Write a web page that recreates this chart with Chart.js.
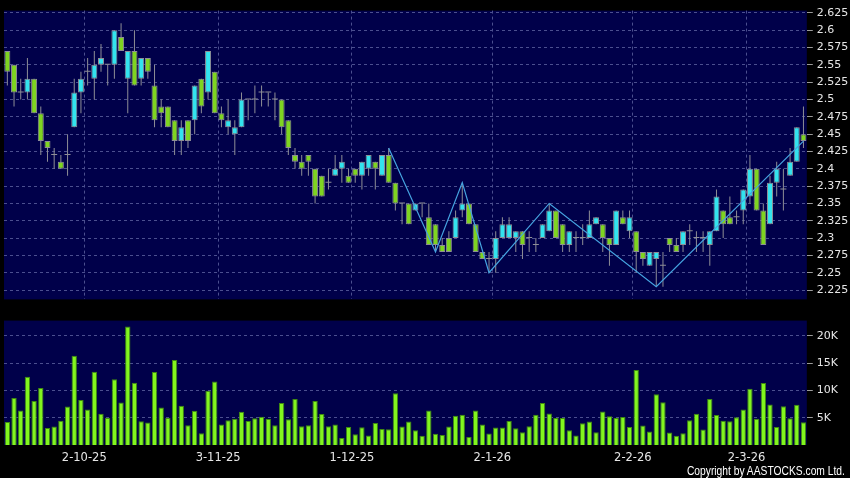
<!DOCTYPE html>
<html>
<head>
<meta charset="utf-8">
<script src="https://cdn.jsdelivr.net/npm/chart.js@4.4.1/dist/chart.umd.min.js"></script>
<style>
  html, body { margin: 0; padding: 0; background: #000; }
  #wrap { position: relative; width: 850px; height: 478px; background: #000; overflow: hidden; }
  #price { position: absolute; left: 0; top: 0; }
  #volume { position: absolute; left: 0; top: 310px; }
  #copy { position: absolute; right: 5px; top: 463px; color: #fff; white-space: nowrap;
          font: 13px "Liberation Sans", sans-serif; transform-origin: right top; }
</style>
</head>
<body>
<div id="wrap">
  <canvas id="price" width="850" height="310"></canvas>
  <canvas id="volume" width="850" height="168"></canvas>
  <div id="copy">Copyright by AASTOCKS.com Ltd.</div>
</div>
<script>
// trading days per month (day numbers), label format d-m-yy
var tradingDays = [
  ['9-25',  [15,16,17,18,19,22,23,24,25,26,29,30]],
  ['10-25', [2,3,6,8,9,10,13,14,15,16,17,20,21,22,23,24,27,28,30,31]],
  ['11-25', [3,4,5,6,7,10,11,12,13,14,17,18,19,20,21,24,25,26,27,28]],
  ['12-25', [1,2,3,4,5,8,9,10,11,12,15,16,17,18,19,22,23,24,29,30,31]],
  ['1-26',  [2,5,6,7,8,9,12,13,14,15,16,19,20,21,22,23,26,27,28,29,30]],
  ['2-26',  [2,3,4,5,6,9,10,11,12,13,16,20,23,24,25,26,27]],
  ['3-26',  [2,3,4,5,6,9,10,11,12]]
];
var monthStarts = ['2-10-25', '3-11-25', '1-12-25', '2-1-26', '2-2-26', '2-3-26'];

var open = [2.57,2.55,2.51,2.51,2.53,2.48,2.44,2.42,2.41,2.42,2.46,2.51,2.54,2.53,2.55,2.55,2.55,2.59,2.53,2.57,
  2.53,2.56,2.52,2.49,2.49,2.47,2.44,2.47,2.47,2.53,2.51,2.54,2.48,2.46,2.45,2.46,2.50,2.50,2.51,2.51,
  2.50,2.50,2.47,2.42,2.41,2.42,2.40,2.39,2.38,2.39,2.40,2.39,2.40,2.39,2.40,2.41,2.39,2.42,2.38,2.35,
  2.35,2.34,2.35,2.33,2.32,2.29,2.30,2.30,2.34,2.35,2.32,2.28,2.27,2.27,2.30,2.30,2.30,2.31,2.30,2.29,
  2.30,2.31,2.34,2.32,2.29,2.30,2.30,2.30,2.32,2.32,2.30,2.29,2.33,2.31,2.31,2.28,2.26,2.27,2.26,2.30,
  2.29,2.29,2.31,2.30,2.30,2.29,2.31,2.34,2.33,2.33,2.34,2.36,2.40,2.34,2.32,2.38,2.37,2.39,2.41,2.45];
var high = [2.57,2.55,2.53,2.56,2.53,2.49,2.44,2.43,2.42,2.45,2.53,2.54,2.56,2.57,2.58,2.55,2.60,2.61,2.57,2.60,
  2.56,2.56,2.55,2.50,2.49,2.47,2.47,2.47,2.52,2.53,2.57,2.54,2.49,2.50,2.47,2.51,2.50,2.52,2.52,2.51,
  2.51,2.50,2.47,2.43,2.42,2.42,2.40,2.39,2.40,2.42,2.42,2.40,2.40,2.41,2.42,2.41,2.42,2.43,2.38,2.35,
  2.35,2.35,2.35,2.35,2.32,2.30,2.31,2.34,2.38,2.35,2.32,2.28,2.28,2.31,2.33,2.33,2.31,2.31,2.31,2.30,
  2.32,2.35,2.34,2.32,2.31,2.31,2.32,2.34,2.33,2.32,2.30,2.34,2.34,2.34,2.31,2.28,2.28,2.28,2.28,2.30,
  2.30,2.31,2.32,2.31,2.31,2.31,2.37,2.34,2.36,2.34,2.37,2.42,2.40,2.35,2.39,2.41,2.40,2.43,2.46,2.49];
var low = [2.52,2.49,2.50,2.50,2.48,2.42,2.41,2.40,2.40,2.39,2.46,2.48,2.52,2.50,2.54,2.52,2.53,2.57,2.48,2.52,
  2.52,2.53,2.46,2.46,2.46,2.42,2.42,2.43,2.45,2.48,2.50,2.48,2.46,2.45,2.42,2.46,2.47,2.48,2.49,2.49,
  2.47,2.45,2.42,2.40,2.39,2.39,2.35,2.36,2.37,2.39,2.38,2.38,2.38,2.37,2.39,2.37,2.39,2.38,2.34,2.32,
  2.32,2.34,2.33,2.29,2.28,2.28,2.28,2.30,2.33,2.32,2.28,2.27,2.25,2.25,2.30,2.30,2.28,2.27,2.28,2.28,
  2.30,2.31,2.30,2.28,2.28,2.28,2.29,2.30,2.32,2.28,2.26,2.29,2.32,2.30,2.25,2.26,2.26,2.23,2.23,2.28,
  2.28,2.28,2.29,2.28,2.28,2.26,2.31,2.30,2.32,2.32,2.32,2.35,2.34,2.29,2.32,2.36,2.34,2.39,2.41,2.43];
var close = [2.54,2.51,2.51,2.53,2.48,2.44,2.43,2.42,2.40,2.42,2.51,2.53,2.54,2.55,2.56,2.55,2.60,2.57,2.57,2.52,
  2.56,2.54,2.47,2.48,2.46,2.44,2.46,2.44,2.52,2.49,2.57,2.48,2.47,2.47,2.46,2.50,2.50,2.50,2.51,2.51,
  2.50,2.46,2.43,2.41,2.40,2.41,2.36,2.36,2.38,2.40,2.41,2.38,2.39,2.41,2.42,2.40,2.42,2.38,2.35,2.35,
  2.32,2.35,2.35,2.29,2.29,2.28,2.28,2.33,2.35,2.32,2.28,2.27,2.27,2.30,2.32,2.32,2.31,2.29,2.30,2.29,
  2.32,2.34,2.30,2.29,2.31,2.30,2.30,2.32,2.33,2.30,2.29,2.34,2.32,2.33,2.28,2.27,2.28,2.28,2.26,2.29,
  2.28,2.31,2.31,2.30,2.30,2.31,2.36,2.32,2.32,2.33,2.37,2.40,2.34,2.29,2.38,2.40,2.37,2.41,2.46,2.44];
// volume in shares
var volume = [4220,8610,6330,12470,8070,10420,3130,3370,4460,7050,16330,8250,6510,13430,5720,5000,12050,7770,21690,11390,
  4340,4100,13370,6870,5000,15540,7170,3610,6270,2170,9940,11630,3730,4520,4820,6080,4400,4880,5180,4760,
  3610,7710,4700,8430,3430,3610,8070,5660,3430,3730,1270,3310,1990,3250,1750,4040,2950,2890,9460,3370,
  4280,2710,1690,6330,2050,1810,3370,5360,5540,1450,6330,3730,2110,3190,3190,4400,3070,2350,3430,5540,
  7710,5780,4940,4940,2710,1750,3980,4280,2350,6140,5240,4940,5120,3310,13730,3550,2470,9280,7830,2290,
  1690,2170,4520,5720,2830,8430,5480,4460,4340,5060,6510,10300,4820,11330,7410,3310,7110,4880,7350,4160];
// zigzag pivots: bar index and price
var zzIndex = [57, 64, 68, 72, 81, 97, 119];
var zzPrice = [2.43, 2.28, 2.38, 2.25, 2.35, 2.23, 2.44];

var priceTicks = [2.225,2.25,2.275,2.3,2.325,2.35,2.375,2.4,2.425,2.45,2.475,2.5,2.525,2.55,2.575,2.6,2.625];
var volTicks = [5000, 10000, 15000, 20000];

var labels = [];
tradingDays.forEach(function(m){
  m[1].forEach(function(d){ labels.push(d + '-' + m[0]); });
});

var NAVY = '#00004a';
var GRID = '#4b4f8f';
var TXT = '#e6e6e6';
var UP = '#33e3ee';
var DOWN = '#7fd421';
var EDGE = '#8e8e96';

Chart.defaults.font.family = '"DejaVu Sans", sans-serif';
Chart.defaults.animation = false;

var panelBg = {
  id: 'panelBg',
  beforeDraw: function(chart){
    var a = chart.chartArea, c = chart.ctx;
    c.save();
    c.fillStyle = NAVY;
    c.fillRect(a.left, a.top, a.right - a.left, a.bottom - a.top);
    c.restore();
  }
};

function monthLine(ctx){
  return monthStarts.indexOf(labels[ctx.index]) >= 0 ? GRID : 'rgba(0,0,0,0)';
}

var wicks = labels.map(function(l, i){ return [low[i], high[i]]; });
var bodies = labels.map(function(l, i){ return [open[i], close[i]]; });
var bodyColor = labels.map(function(l, i){
  if (close[i] > open[i]) return UP;
  if (close[i] < open[i]) return DOWN;
  return EDGE;
});
var bodyBorder = labels.map(function(l, i){ return close[i] === open[i] ? 0 : 1; });
var zigzag = labels.map(function(){ return null; });
for (var k = 0; k < zzIndex.length; k++) zigzag[zzIndex[k]] = zzPrice[k];

new Chart(document.getElementById('price'), {
  type: 'bar',
  data: {
    labels: labels,
    datasets: [
      { type: 'line', data: zigzag, spanGaps: true, borderColor: '#45a3e0', borderWidth: 1.2,
        pointRadius: 0, tension: 0, order: 0 },
      { data: bodies, grouped: false, barThickness: 6, backgroundColor: bodyColor,
        borderColor: EDGE, borderWidth: bodyBorder, borderSkipped: false, minBarLength: 1,
        inflateAmount: 0, order: 1 },
      { data: wicks, grouped: false, barThickness: 1, backgroundColor: EDGE,
        borderWidth: 0, inflateAmount: 0, order: 2 }
    ]
  },
  options: {
    responsive: false,
    layout: { padding: { left: 4, top: 6, right: 0, bottom: 4 } },
    plugins: { legend: { display: false }, tooltip: { enabled: false } },
    scales: {
      x: {
        offset: true,
        grid: { offset: true, color: monthLine, drawTicks: false },
        border: { display: false, dash: [3, 3] },
        ticks: { display: false, autoSkip: false },
        afterFit: function(s){ s.height = 0; }
      },
      y: {
        position: 'right',
        min: 2.21157, max: 2.62824,
        afterBuildTicks: function(s){ s.ticks = priceTicks.map(function(v){ return { value: v }; }); },
        afterFit: function(s){ s.width = 43.2; },
        grid: { color: GRID, tickLength: 6, tickColor: '#9a9a9a' },
        border: { display: false, dash: [3, 3] },
        ticks: { color: TXT, padding: 4, font: { size: 11 },
                 callback: function(v){ return String(+v.toFixed(3)); } }
      }
    }
  },
  plugins: [panelBg]
});

new Chart(document.getElementById('volume'), {
  type: 'bar',
  data: {
    labels: labels,
    datasets: [
      { data: volume, backgroundColor: '#82f51e', borderColor: '#3f8a10', borderWidth: 1,
        borderSkipped: 'bottom', barPercentage: 0.8, categoryPercentage: 1, inflateAmount: 0 }
    ]
  },
  options: {
    responsive: false,
    layout: { padding: { left: 4, top: 9, right: 0, bottom: 0 } },
    plugins: { legend: { display: false }, tooltip: { enabled: false } },
    scales: {
      x: {
        offset: true,
        grid: { offset: true, color: monthLine, tickLength: 4, tickColor: monthLine },
        border: { display: false, dash: [3, 3] },
        ticks: { autoSkip: false, maxRotation: 0, labelOffset: -3.35, padding: 2, color: TXT,
                 font: { size: 11.5 },
                 callback: function(v, i){ return monthStarts.indexOf(labels[i]) >= 0 ? labels[i] : null; } },
        afterFit: function(s){ s.height = 33; }
      },
      y: {
        position: 'right',
        min: 0, max: 22770,
        afterBuildTicks: function(s){ s.ticks = volTicks.map(function(v){ return { value: v }; }); },
        afterFit: function(s){ s.width = 43.2; },
        grid: { color: GRID, tickLength: 6, tickColor: '#9a9a9a' },
        border: { display: false, dash: [3, 3] },
        ticks: { color: TXT, padding: 4, font: { size: 11 },
                 callback: function(v){ return (v / 1000) + 'K'; } }
      }
    }
  },
  plugins: [panelBg]
});

// squeeze the copyright line to the narrow width used in the original
var copy = document.getElementById('copy');
copy.style.transform = 'scaleX(' + (158 / copy.getBoundingClientRect().width) + ')';
</script>
</body>
</html>
